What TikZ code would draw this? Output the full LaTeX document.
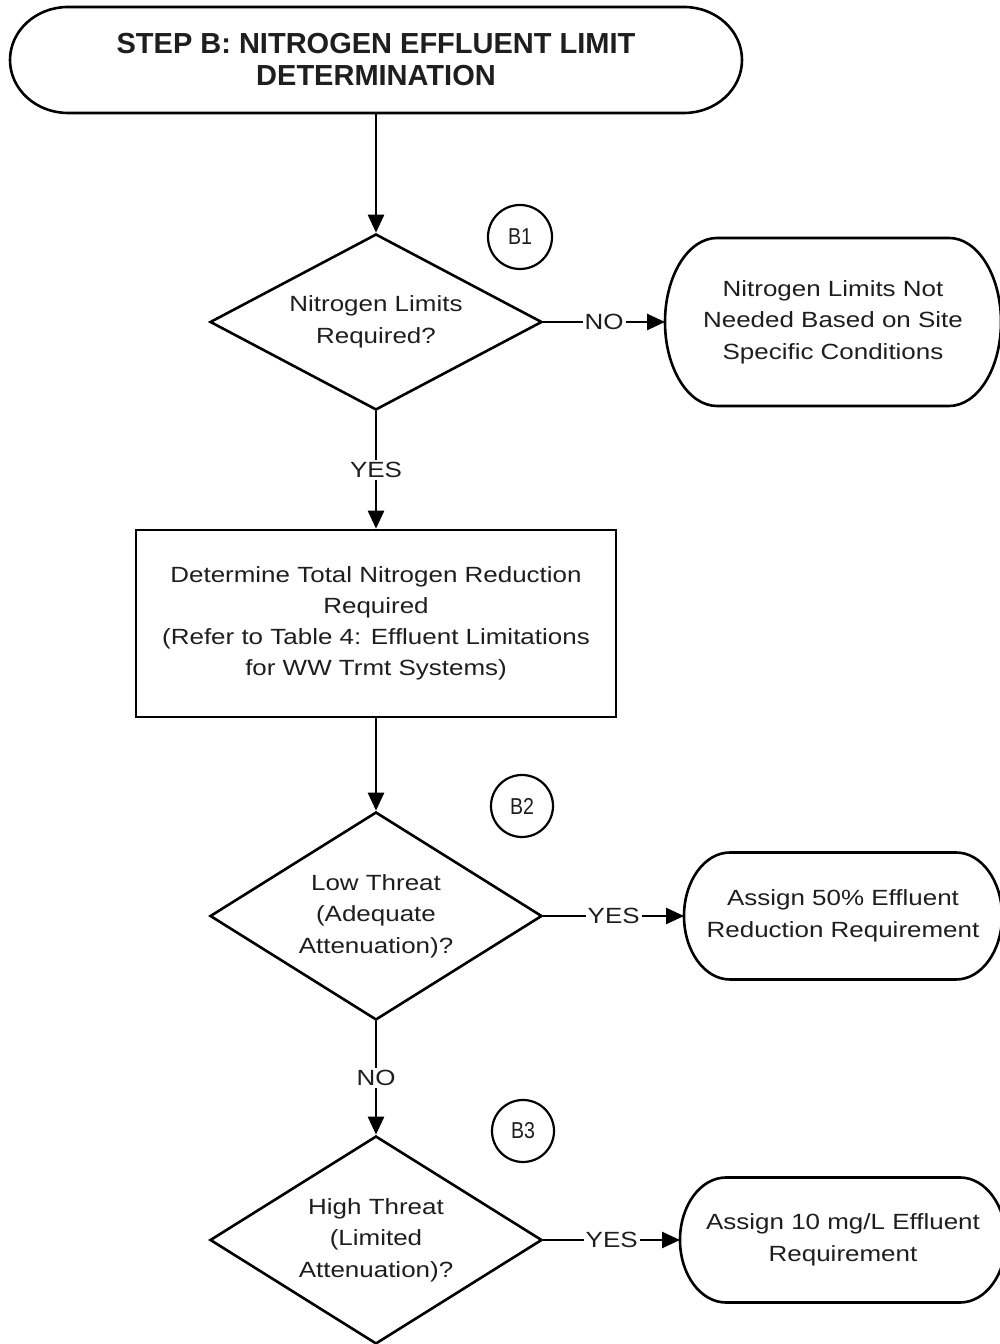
\documentclass[tikz,border=0pt]{standalone}
\usepackage{fontspec}
\setmainfont{Liberation Sans}
\newfontfamily\widesans[FakeStretch=1.18]{Liberation Sans}
\newfontfamily\narrowsans[FakeStretch=0.85]{Liberation Sans}
\usetikzlibrary{arrows.meta,shapes.geometric}
\definecolor{ink}{HTML}{1E1E1E}
\tikzstyle{decision}=[diamond, draw, line width=2.6pt, inner sep=0pt, minimum width=332pt, align=center, text=ink, font=\widesans\fontsize{22}{31.5}\selectfont]
\tikzstyle{process}=[rectangle, draw, line width=2.6pt, inner sep=0pt, align=center, text=ink, font=\widesans\fontsize{22}{31}\selectfont]
\tikzstyle{terminal}=[rectangle, outer sep=0pt, inner sep=0pt, align=center, text=ink, font=\widesans\fontsize{22}{31.5}\selectfont]
\tikzstyle{tag}=[circle, draw, line width=2.2pt, inner sep=0pt, text=ink, font=\narrowsans\fontsize{23}{23}\selectfont]
\tikzstyle{answer}=[fill=white, inner sep=2pt, text=ink, font=\widesans\fontsize{22}{22}\selectfont]
\newcommand{\decision}{\node[decision]}
\newcommand{\procbox}{\node[process]}
\newcommand{\termnode}{\node[terminal]}
\newcommand{\tagnode}{\node[tag]}
\newcommand{\capsule}[3]{\draw[line width=2.6pt] ([xshift=#2]#1.north west) -- ([xshift=-#2]#1.north east)
    arc[start angle=90, end angle=-90, x radius=#2, y radius=#3] -- ([xshift=#2]#1.south west)
    arc[start angle=270, end angle=90, x radius=#2, y radius=#3] -- cycle;}

\begin{document}
\begin{tikzpicture}[x=1pt, y=1pt
    ,every edge/.style={draw, line width=2.6pt, -{Triangle[length=18pt,width=16pt]}}
]
\useasboundingbox[fill=white] (0,0) rectangle (999,1344);
\termnode[minimum width=732pt, minimum height=106pt, font=\bfseries\fontsize{29}{32}\selectfont] (start) at (376,1284) {STEP B: NITROGEN EFFLUENT LIMIT\\DETERMINATION};
\decision[minimum height=176pt, aspect=1.89] (limits) at (376,1022) {Nitrogen Limits\\Required?};
\termnode[minimum width=336pt, minimum height=168pt] (nosite) at (833,1022) {Nitrogen Limits Not\\Needed Based on Site\\Specific Conditions};
\procbox[minimum width=480pt, minimum height=187pt] (reduce) at (376,720.5) {Determine Total Nitrogen Reduction\\Required\\(Refer to Table 4: Effluent Limitations\\for WW Trmt Systems)};
\decision[minimum height=208pt, aspect=1.6] (lowthreat) at (376,428) {Low Threat\\(Adequate\\Attenuation)?};
\termnode[minimum width=318pt, minimum height=127pt] (fifty) at (843,428) {Assign 50\% Effluent\\Reduction Requirement};
\decision[minimum height=208pt, aspect=1.6] (highthreat) at (376,104) {High Threat\\(Limited\\Attenuation)?};
\termnode[minimum width=326pt, minimum height=125pt] (tenmg) at (843,104) {Assign 10 mg/L Effluent\\Requirement};
\tagnode[minimum size=64pt] (b1) at (520,1107) {B1};
\tagnode[minimum size=62pt] (b2) at (522,538) {B2};
\tagnode[minimum size=62pt] (b3) at (523,213) {B3};
\capsule{start}{58}{53}
\capsule{nosite}{52}{84}
\capsule{fifty}{46}{63.5}
\capsule{tenmg}{46}{62.5}
\path
(start) edge (limits)
(limits) edge node [answer] {NO} (nosite)
         edge node [answer] {YES} (reduce)
(reduce) edge (lowthreat)
(lowthreat) edge node [answer] {YES} (fifty)
            edge node [answer] {NO} (highthreat)
(highthreat) edge node [answer] {YES} (tenmg)
;
\end{tikzpicture}
\end{document}
